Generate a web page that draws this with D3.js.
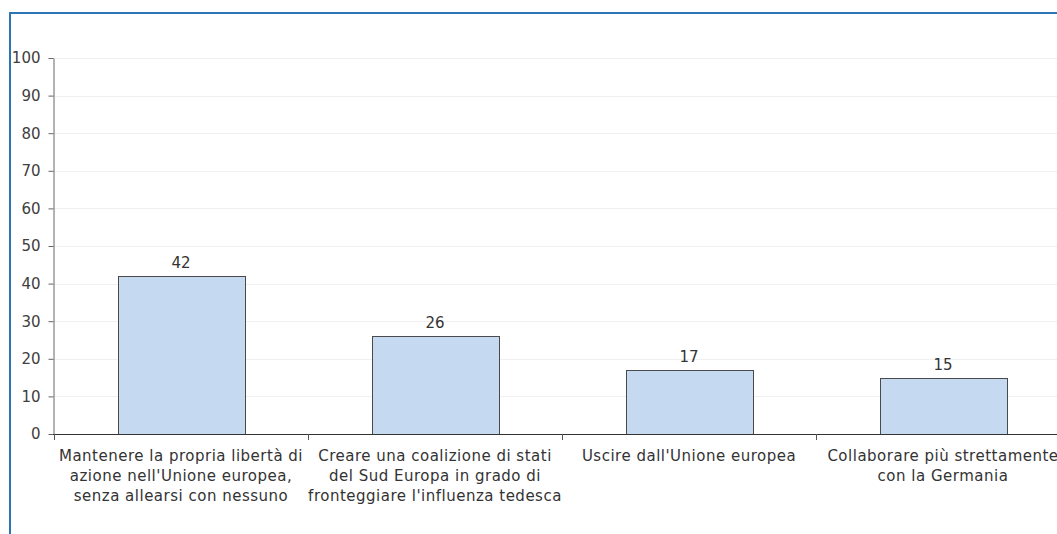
<!DOCTYPE html>
<html>
<head>
<meta charset="utf-8">
<script src="https://cdn.jsdelivr.net/npm/d3@7"></script>
<style>
  html, body { margin: 0; padding: 0; background: #fff; overflow: hidden; }
  svg { display: block; }
</style>
</head>
<body>
<svg id="chart" width="1057" height="534"></svg>
<script>
const categories = [
  ["Mantenere la propria libertà di", "azione nell'Unione europea,", "senza allearsi con nessuno"],
  ["Creare una coalizione di stati", "del Sud Europa in grado di", "fronteggiare l'influenza tedesca"],
  ["Uscire dall'Unione europea"],
  ["Collaborare più strettamente", "con la Germania"]
];
const values = [42, 26, 17, 15];
const yTicks = [0, 10, 20, 30, 40, 50, 60, 70, 80, 90, 100];

const FONT = "'DejaVu Sans', sans-serif";
const svg = d3.select("#chart");

// frame
svg.append("path")
  .attr("d", "M10,534 L10,13 L1057,13")
  .attr("fill", "none")
  .attr("stroke", "#2e75b6")
  .attr("stroke-width", 2);

const x = d3.scaleBand()
  .domain(d3.range(categories.length))
  .range([54, 1070])
  .paddingInner(0.5)
  .paddingOuter(0.25);

const y = d3.scaleLinear().domain([0, 100]).range([434, 58]);

// gridlines
svg.append("g").selectAll("line")
  .data(yTicks.filter(d => d > 0))
  .join("line")
  .attr("x1", 54).attr("x2", 1057)
  .attr("y1", d => Math.round(y(d)) + 0.5).attr("y2", d => Math.round(y(d)) + 0.5)
  .attr("stroke", "#f0f0f0").attr("stroke-width", 1);

// bars
svg.append("g").selectAll("rect")
  .data(values)
  .join("rect")
  .attr("x", (d, i) => Math.round(x(i)) + 0.5)
  .attr("y", d => Math.round(y(d)) + 0.5)
  .attr("width", x.bandwidth())
  .attr("height", d => y(0) - Math.round(y(d)))
  .attr("fill", "#c5daf0")
  .attr("stroke", "#4a4a4a")
  .attr("stroke-width", 1);

// value labels
svg.append("g").selectAll("text")
  .data(values)
  .join("text")
  .attr("x", (d, i) => x(i) + x.bandwidth() / 2)
  .attr("y", d => y(d) - 8)
  .attr("text-anchor", "middle")
  .attr("font-family", FONT)
  .attr("font-size", 15)
  .attr("fill", "#333")
  .text(d => d);

// y axis
const yAxis = d3.axisLeft(y).tickValues(yTicks).tickSize(5).tickSizeOuter(0).tickPadding(8);
const gy = svg.append("g").attr("transform", "translate(53.5,0)").call(yAxis);
gy.select(".domain").attr("stroke", "#666");
gy.selectAll(".tick line").attr("stroke", "#666");
gy.selectAll(".tick text").attr("font-family", FONT).attr("font-size", 15).attr("fill", "#404040");

// x axis line
svg.append("line")
  .attr("x1", 53).attr("x2", 1057)
  .attr("y1", 434.5).attr("y2", 434.5)
  .attr("stroke", "#333").attr("stroke-width", 1);

// category ticks (between bands)
const sepX = d3.range(categories.length + 1).map(i => 54 + i * (1070 - 54) / categories.length);
svg.append("g").selectAll("line")
  .data(sepX)
  .join("line")
  .attr("x1", d => Math.round(d) + 0.5).attr("x2", d => Math.round(d) + 0.5)
  .attr("y1", 434).attr("y2", 440)
  .attr("stroke", "#555");

// category labels
const lab = svg.append("g").selectAll("text")
  .data(categories)
  .join("text")
  .attr("x", (d, i) => x(i) + x.bandwidth() / 2)
  .attr("y", 461)
  .attr("text-anchor", "middle")
  .attr("font-family", FONT)
  .attr("font-size", 15)
  .attr("letter-spacing", 0.5)
  .attr("fill", "#333");
lab.selectAll("tspan")
  .data(d => d)
  .join("tspan")
  .attr("x", function() { return this.parentNode.getAttribute("x"); })
  .attr("dy", (d, i) => i === 0 ? 0 : 20)
  .text(d => d);
</script>
</body>
</html>
